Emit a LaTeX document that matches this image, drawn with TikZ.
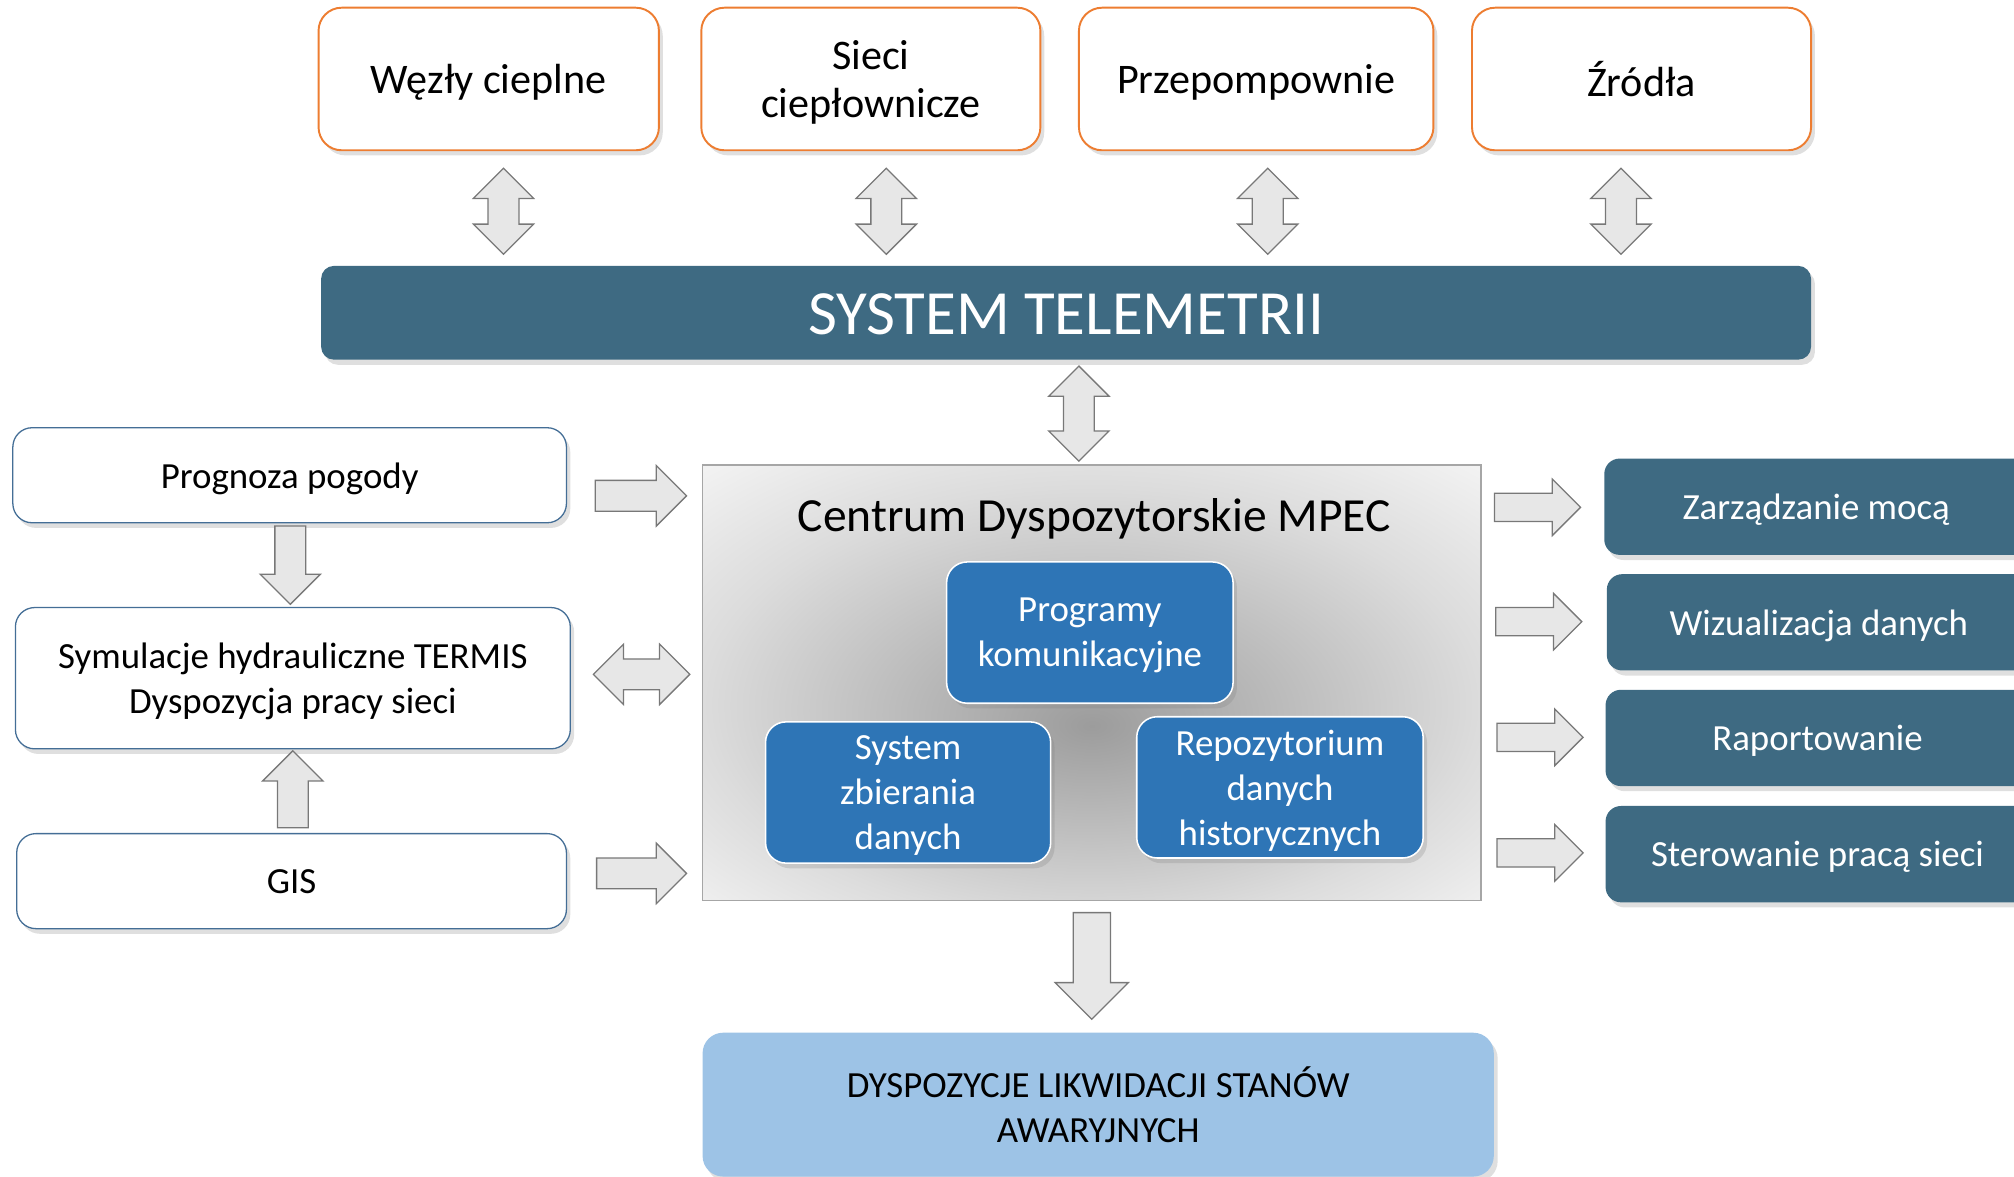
\documentclass[tikz,border=0pt]{standalone}
\usepackage{fontspec}
\setmainfont{Carlito}
\usetikzlibrary{shapes.arrows,shadows}
\definecolor{telblue}{RGB}{62,106,130}
\definecolor{inblue}{RGB}{46,117,182}
\definecolor{lightblue}{RGB}{157,195,230}
\definecolor{orng}{RGB}{237,125,49}
\definecolor{slate}{RGB}{68,110,150}
\definecolor{arrgray}{RGB}{231,231,231}
\definecolor{arrline}{RGB}{120,120,120}
\definecolor{cdark}{RGB}{156,156,156}
\definecolor{cmid}{RGB}{220,220,220}
\definecolor{clight}{RGB}{242,242,242}
\pgfdeclareradialshading{centrumshade}{\pgfpoint{0bp}{-5bp}}{color(0bp)=(cdark); color(25bp)=(cmid); color(36bp)=(clight); color(50bp)=(clight)}
\begin{document}
\begin{tikzpicture}[x=1pt,y=-1pt]
      \tikzstyle{shd}=[drop shadow={opacity=0.25,shadow xshift=3pt,shadow yshift=-4pt}]
      \tikzstyle{topbox}=[draw=orng,line width=1.5pt,fill=white,rounded corners=18pt,minimum height=111pt,align=center,inner sep=0pt,text depth=0pt,font=\fontsize{32.8}{38}\selectfont,shd]
      \tikzstyle{sidebox}=[draw=slate,line width=1pt,fill=white,rounded corners=15pt,align=center,inner sep=0pt,text depth=0pt,font=\fontsize{28.7}{35}\selectfont,shd]
      \tikzstyle{bluebox}=[draw=white,line width=1.2pt,fill=inblue,text=white,rounded corners=16pt,minimum width=223pt,minimum height=110pt,align=center,inner sep=0pt,text depth=0pt,font=\fontsize{28.7}{35}\selectfont,shd]
      \tikzstyle{darkbox}=[fill=telblue,text=white,rounded corners=12pt,minimum width=330pt,minimum height=75pt,inner sep=0pt,text depth=0pt,font=\fontsize{28.7}{35}\selectfont,shd]
      \tikzstyle{arr}=[single arrow,draw=arrline,fill=arrgray,line width=1pt,inner xsep=0pt,inner ysep=11.5pt,single arrow head extend=11.5pt,anchor=tail]
      \tikzstyle{darr}=[double arrow,draw=arrline,fill=arrgray,line width=1pt,inner xsep=0pt,inner ysep=11.5pt,double arrow head extend=11.5pt]
      \useasboundingbox (0,0) rectangle (1568,916);
      \clip (0,0) rectangle (1568,916);
      \node[topbox,minimum width=265pt] (wezly) at (380.5,61.5) {Węzły cieplne};
      \node[topbox,minimum width=264pt] (sieci) at (678,61.5) {Sieci\\ciepłownicze};
      \node[topbox,minimum width=276pt] (przep) at (978,61.5) {Przepompownie};
      \node[topbox,minimum width=264pt] (zrodla) at (1278,61.5) {Źródła};
      \node[fill=telblue,text=white,rounded corners=10pt,minimum width=1160pt,minimum height=73pt,inner sep=0pt,text height=34pt,text depth=0pt,font=\fontsize{49}{52}\selectfont,shd] (telemetria) at (830,243.5) {SYSTEM TELEMETRII};
      \node[darr,minimum height=67pt,rotate=90] (a1) at (392,164.5) {};
      \node[darr,minimum height=67pt,rotate=90] (a2) at (690,164.5) {};
      \node[darr,minimum height=67pt,rotate=90] (a3) at (987,164.5) {};
      \node[darr,minimum height=67pt,rotate=90] (a4) at (1262,164.5) {};
      \node[darr,minimum height=74pt,rotate=90] (a5) at (840,322) {};
      \node[sidebox,minimum width=431pt,minimum height=74pt] (prognoza) at (225.5,370) {Prognoza pogody};
      \node[sidebox,minimum width=432pt,minimum height=110pt] (symulacje) at (228,528) {Symulacje hydrauliczne TERMIS\\Dyspozycja pracy sieci};
      \node[sidebox,minimum width=428pt,minimum height=74pt] (gis) at (227,686) {GIS};
      \node[arr,minimum height=61pt,rotate=-90] (b1) at (226,409) {};
      \node[arr,minimum height=60pt,rotate=90] (b2) at (228,645) {};
      \node[arr,minimum height=71pt] (c1) at (463,386) {};
      \node[darr,minimum height=75pt] (c2) at (499.5,525) {};
      \node[arr,minimum height=70pt] (c3) at (464,680) {};
      \node[draw=gray!70,line width=1pt,shading=centrumshade,minimum width=606pt,minimum height=339pt] (centrum) at (850,531.5) {};
      \node[font=\fontsize{37}{40}\selectfont,text depth=0pt] (tytul) at (852,401) {Centrum Dyspozytorskie MPEC};
      \node[bluebox] (programy) at (848.5,492.5) {Programy\\komunikacyjne};
      \node[bluebox,minimum width=222pt] (zbieranie) at (707,617) {System\\zbierania\\danych};
      \node[bluebox] (repozytorium) at (996.5,613) {Repozytorium\\danych\\historycznych};
      \node[arr,minimum height=67pt,inner ysep=10.5pt,single arrow head extend=11pt] (d1) at (1163,395) {};
      \node[arr,minimum height=67pt,inner ysep=10.5pt,single arrow head extend=11pt] (d2) at (1164,484) {};
      \node[arr,minimum height=67pt,inner ysep=10.5pt,single arrow head extend=11pt] (d3) at (1165,574) {};
      \node[arr,minimum height=67pt,inner ysep=10.5pt,single arrow head extend=11pt] (d4) at (1165,664) {};
      \node[darkbox] (moc) at (1414,394.5) {Zarządzanie mocą};
      \node[darkbox] (wizualizacja) at (1416,484.5) {Wizualizacja danych};
      \node[darkbox] (raportowanie) at (1415,574.5) {Raportowanie};
      \node[darkbox] (sterowanie) at (1415,665) {Sterowanie pracą sieci};
      \node[arr,minimum height=83pt,inner ysep=14pt,single arrow head extend=14pt,rotate=-90] (e1) at (850,710) {};
      \node[fill=lightblue,rounded corners=16pt,minimum width=616pt,minimum height=112pt,align=center,inner sep=0pt,text depth=0pt,font=\fontsize{28.7}{35}\selectfont,shd] (dyspozycje) at (855,860) {DYSPOZYCJE LIKWIDACJI STANÓW\\AWARYJNYCH};
\end{tikzpicture}
\end{document}
